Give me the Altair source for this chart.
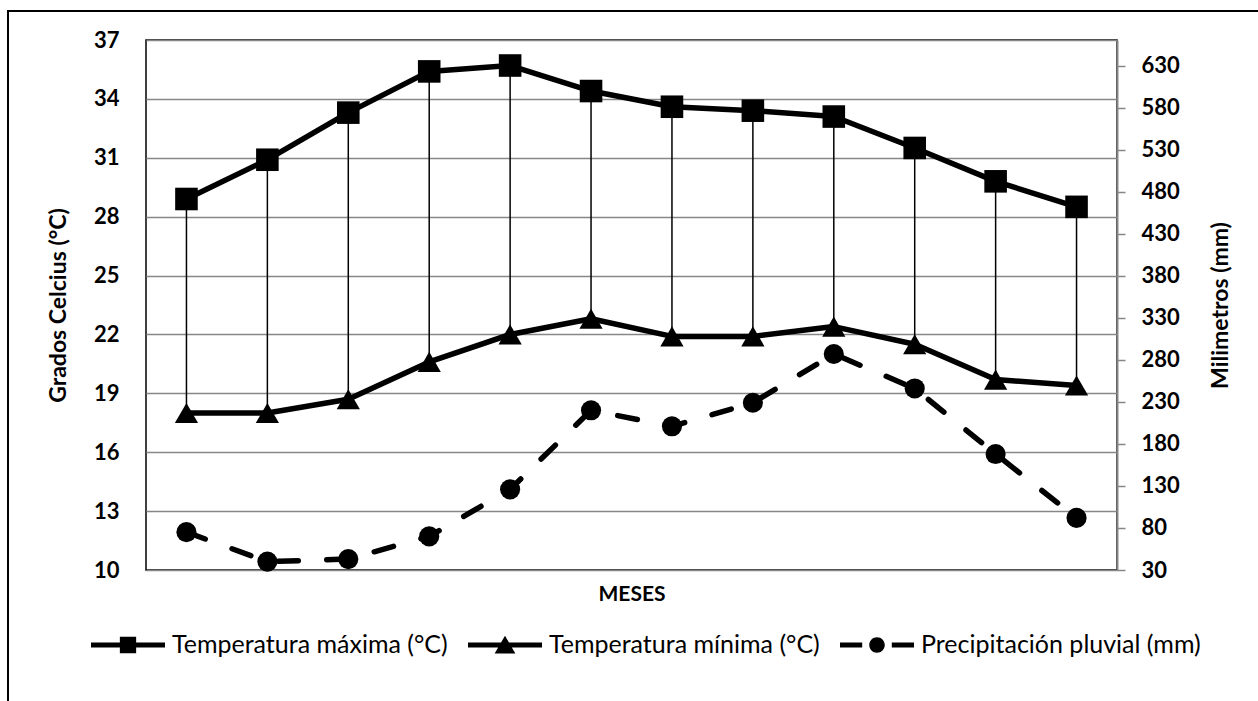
import altair as alt
import pandas as pd

# Monthly climate series
meses = ["Ene", "Feb", "Mar", "Abr", "May", "Jun", "Jul", "Ago", "Sep", "Oct", "Nov", "Dic"]
temp_max = [28.9, 30.9, 33.3, 35.4, 35.7, 34.4, 33.6, 33.4, 33.1, 31.5, 29.8, 28.5]
temp_min = [18.0, 18.0, 18.7, 20.6, 22.0, 22.8, 21.9, 21.9, 22.4, 21.5, 19.7, 19.4]
precip = [75, 40, 43, 70, 126, 220, 201, 229, 287, 246, 168, 92]

series = ["Temperatura máxima (°C)", "Temperatura mínima (°C)", "Precipitación pluvial (mm)"]
ticks_temp = [10, 13, 16, 19, 22, 25, 28, 31, 34, 37]
ticks_mm = [30, 80, 130, 180, 230, 280, 330, 380, 430, 480, 530, 580, 630]

df = pd.DataFrame({"mes": meses, "tmax": temp_max, "tmin": temp_min, "pp": precip})
legend_df = pd.DataFrame({"serie": series})

FONT = "Lato"
W, H = 971, 530
GRID = "#878787"

# Legend glyphs: line + marker, in the [-1, 1] symbol space
bar = "M-1,-0.07L1,-0.07L1,0.07L-1,0.07Z"
legend_paths = [
    bar + "M-0.22,-0.22L0.22,-0.22L0.22,0.22L-0.22,0.22Z",
    bar + "M0,-0.25L0.28,0.23L-0.28,0.23Z",
    "M-1,-0.07L-0.4,-0.07L-0.4,0.07L-1,0.07Z"
    "M0.4,-0.07L1,-0.07L1,0.07L0.4,0.07Z"
    "M-0.21,0A0.21,0.21 0 1,0 0.21,0A0.21,0.21 0 1,0 -0.21,0Z",
]

x_enc = alt.X(
    "mes:O",
    sort=meses,
    scale=alt.Scale(type="point", padding=0.5),
    axis=alt.Axis(
        title="MESES", labels=False, ticks=False, domain=False, grid=False,
        titleFont=FONT, titleFontSize=21, titleFontWeight="bold", titleColor="black",
        titleY=30, titleBaseline="alphabetic",
    ),
)

axis_temp = alt.Axis(
    title="Grados Celcius (°C)", values=ticks_temp, grid=True, gridColor=GRID, gridWidth=1.5,
    ticks=False, domain=False, labelPadding=27, labelFont=FONT, labelFontSize=22,
    labelFontWeight="bold", labelColor="black",
    titleFont=FONT, titleFontSize=23, titleFontWeight="bold", titleColor="black",
    titleAngle=270, titleX=-88, titleY=H / 2, titleAlign="center", titleBaseline="middle",
)
scale_temp = alt.Scale(domain=[10, 37], nice=False, zero=False)

axis_mm = alt.Axis(
    title="Milimetros (mm)", orient="right", values=ticks_mm, grid=False,
    domain=True, domainColor=GRID, domainWidth=2,
    ticks=True, tickColor=GRID, tickSize=8, tickWidth=1.5,
    labelPadding=16, labelFont=FONT, labelFontSize=22, labelFontWeight="bold", labelColor="black",
    titleFont=FONT, titleFontSize=23, titleFontWeight="bold", titleColor="black",
    titleAngle=270, titleX=103, titleY=H / 2, titleAlign="center", titleBaseline="middle",
)
scale_mm = alt.Scale(domain=[30, 660.6], nice=False, zero=False)

base = alt.Chart(df)

# Outer frame around the whole figure
frame = alt.Chart(pd.DataFrame({"k": [0]})).mark_rect(
    fill="white", fillOpacity=0, stroke="black", strokeWidth=2
).encode(x=alt.value(-138), y=alt.value(-29), x2=alt.value(1250), y2=alt.value(760))

hilo = base.mark_rule(color="black", strokeWidth=1.5).encode(
    x=x_enc, y=alt.Y("tmin:Q", scale=scale_temp, axis=axis_temp), y2="tmax:Q"
)

line_max = base.mark_line(color="black", strokeWidth=5.5, strokeJoin="round", strokeCap="round").encode(
    x=x_enc, y=alt.Y("tmax:Q", scale=scale_temp, axis=axis_temp)
)
pts_max = base.mark_point(shape="square", filled=True, color="black", opacity=1, size=510).encode(
    x=x_enc, y=alt.Y("tmax:Q", scale=scale_temp, axis=axis_temp)
)
line_min = base.mark_line(color="black", strokeWidth=5.5, strokeJoin="round", strokeCap="round").encode(
    x=x_enc, y=alt.Y("tmin:Q", scale=scale_temp, axis=axis_temp)
)
pts_min = base.mark_point(shape="triangle-up", filled=True, color="black", opacity=1, size=540).encode(
    x=x_enc, y=alt.Y("tmin:Q", scale=scale_temp, axis=axis_temp)
)

line_pp = base.mark_line(
    color="black", strokeWidth=5.5, strokeDash=[20, 28.5], strokeCap="round", strokeJoin="round"
).encode(x=x_enc, y=alt.Y("pp:Q", scale=scale_mm, axis=axis_mm))
pts_pp = base.mark_point(shape="circle", filled=True, color="black", opacity=1, size=405).encode(
    x=x_enc, y=alt.Y("pp:Q", scale=scale_mm, axis=axis_mm)
)

legend_layer = alt.Chart(legend_df).transform_filter("false").mark_point(
    filled=True, color="black", opacity=1
).encode(
    shape=alt.Shape(
        "serie:N",
        scale=alt.Scale(domain=series, range=legend_paths),
        legend=alt.Legend(
            title=None, orient="none", direction="horizontal", legendX=-55, legendY=568,
            symbolSize=5476, symbolStrokeWidth=0, symbolFillColor="black",
            labelFont=FONT, labelFontSize=25, labelColor="black", labelOffset=7,
            labelLimit=600, columnPadding=20,
        ),
    )
)

temp_layer = alt.layer(frame, hilo, line_max, pts_max, line_min, pts_min, legend_layer)
pp_layer = alt.layer(line_pp, pts_pp)

chart = (
    alt.layer(temp_layer, pp_layer)
    .resolve_scale(y="independent", shape="independent")
    .properties(
        width=W, height=H,
        autosize=alt.AutoSizeParams(type="none"),
        padding={"left": 146, "top": 40, "right": 141, "bottom": 131},
        background="white",
    )
    .configure_view(stroke="black", strokeWidth=1.5)
)

chart.save("out.html", embed_options={"renderer": "svg", "actions": False})
